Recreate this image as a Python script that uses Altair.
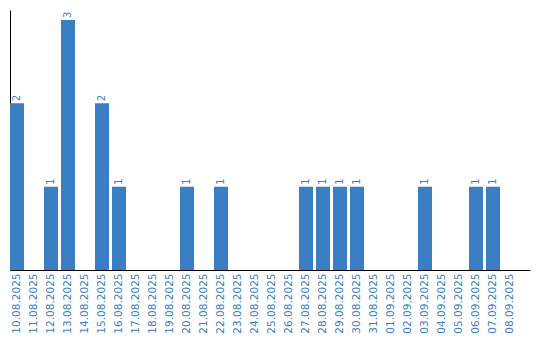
import altair as alt
import pandas as pd

dates = ["10.08.2025", "11.08.2025", "12.08.2025", "13.08.2025", "14.08.2025",
         "15.08.2025", "16.08.2025", "17.08.2025", "18.08.2025", "19.08.2025",
         "20.08.2025", "21.08.2025", "22.08.2025", "23.08.2025", "24.08.2025",
         "25.08.2025", "26.08.2025", "27.08.2025", "28.08.2025", "29.08.2025",
         "30.08.2025", "31.08.2025", "01.09.2025", "02.09.2025", "03.09.2025",
         "04.09.2025", "05.09.2025", "06.09.2025", "07.09.2025", "08.09.2025"]
counts = [2, 0, 1, 3, 0, 2, 1, 0, 0, 0,
          1, 0, 1, 0, 0, 0, 0, 1, 1, 1,
          1, 0, 0, 0, 1, 0, 0, 1, 1, 0]

df = pd.DataFrame({"date": dates, "count": counts})
df["label"] = df["count"].apply(lambda v: str(v) if v > 0 else "")

BLUE = "#3a7ec3"
FONT = "DejaVu Sans"

x = alt.X("date:N", sort=dates, title=None,
          scale=alt.Scale(paddingInner=0.176, paddingOuter=0.382, align=0),
          axis=alt.Axis(labelAngle=-90, labelColor=BLUE, labelFont=FONT,
                        labelFontSize=10.5, ticks=False, labelPadding=3,
                        labelOverlap=False,
                        domainColor="black", domainWidth=1, grid=False))
y = alt.Y("count:Q", title=None, scale=alt.Scale(domain=[0, 3.12], nice=False),
          axis=alt.Axis(labels=False, ticks=False, grid=False,
                        domainColor="black", domainWidth=1))

bars = alt.Chart(df).mark_bar(color=BLUE).encode(x=x, y=y)
text = alt.Chart(df).mark_text(angle=270, align="left", baseline="middle",
                               dx=2, color=BLUE, font=FONT, fontSize=10).encode(
    x=x, y=y, text="label:N")

chart = (bars + text).properties(
    width=520, height=260,
    autosize=alt.AutoSizeParams(type="none"),
    padding={"left": 10, "top": 10, "right": 10, "bottom": 70},
).configure_view(stroke=None)

chart.save("out.html", embed_options={"renderer": "svg", "actions": False})
